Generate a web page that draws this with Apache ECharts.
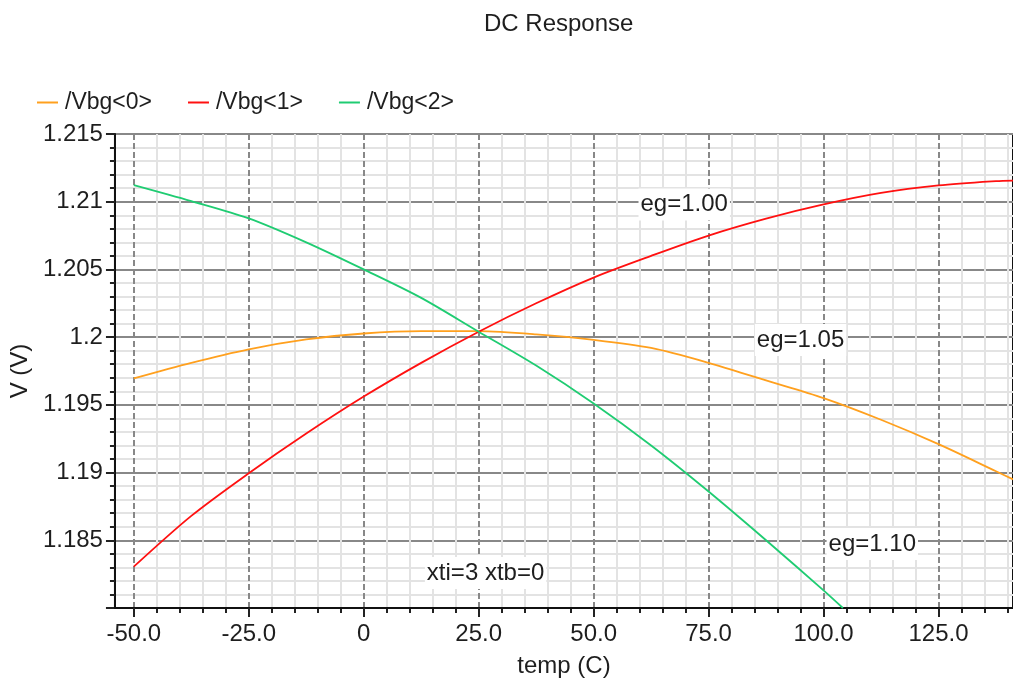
<!DOCTYPE html>
<html>
<head>
<meta charset="utf-8">
<script src="https://cdn.jsdelivr.net/npm/echarts@6/dist/echarts.min.js"></script>
<style>
html,body{margin:0;padding:0;background:#fff;}
#chart{width:1013px;height:683px;}
</style>
</head>
<body>
<div id="chart"></div>
<script>
// ---- data ----
const TITLE = 'DC Response';
const SERIES_NAMES = ['/Vbg<0>', '/Vbg<1>', '/Vbg<2>'];
const TEMP_A = [-50, -37.5, -25, -12.5, 0, 12.5, 25, 37.5, 50, 62.5, 75, 87.5, 100, 112.5, 125, 137.5, 141.2];
const VBG0 = [1.19695, 1.1981, 1.1991, 1.19983, 1.20027, 1.20045, 1.20044, 1.2002, 1.1998, 1.1992, 1.1981, 1.1968, 1.1955, 1.1939, 1.1921, 1.1901, 1.1895];
const VBG1 = [1.18305, 1.18680, 1.18995, 1.19288, 1.19561, 1.1981, 1.2004, 1.2025, 1.2044, 1.2060, 1.2075, 1.20875, 1.2098, 1.21065, 1.2112, 1.21152, 1.21156];
const TEMP_B = [-50, -37.5, -25, -12.5, 0, 12.5, 25, 37.5, 50, 62.5, 75, 87.5, 100, 104.2];
const VBG2 = [1.21123, 1.21005, 1.20877, 1.2070, 1.205, 1.2029, 1.2004, 1.1979, 1.1951, 1.1920, 1.1886, 1.1850, 1.1813, 1.18];
const X_MAJOR = [-50, -25, 0, 25, 50, 75, 100, 125];
const X_MIN = -54.1, X_MAX = 141.2;
const Y_MIN = 1.18, Y_MAX = 1.215, Y_STEP = 0.005;
const NOTES = [
  {text: 'eg=1.00', t: 69.7, v: 1.2098},
  {text: 'eg=1.05', t: 95.0, v: 1.19979},
  {text: 'eg=1.10', t: 110.6, v: 1.18472},
  {text: 'xti=3 xtb=0', t: 26.5, v: 1.18258}
];
const COLORS = ['#ffa01e', '#ff1010', '#1fcc72'];

// minor x ticks every 5, skipping the major ones
const X_MINOR = [];
for (let t = -50; t <= X_MAX; t += 5) { if (t % 25 !== 0) X_MINOR.push(t); }

const FONT = "'Liberation Sans', Arial, sans-serif";
const TXT = '#1e1e1e';

function zip(xs, ys) { return xs.map((x, i) => [x, ys[i]]); }

const chart = echarts.init(document.getElementById('chart'), null, {renderer: 'canvas'});
const mkSeries = (name, data, color, extra) => Object.assign({
  name: name, type: 'line', data: data, symbol: 'none', smooth: 0.3,
  xAxisIndex: 0, yAxisIndex: 0,
  lineStyle: {color: color, width: 1.8}, itemStyle: {color: color},
  z: 5
}, extra || {});

chart.setOption({
  animation: false,
  backgroundColor: '#fff',
  textStyle: {fontFamily: FONT},
  title: {
    text: TITLE, left: 479, top: 7,
    textStyle: {fontFamily: FONT, fontSize: 24, fontWeight: 'normal', color: TXT}
  },
  legend: {
    data: SERIES_NAMES, left: 32, top: 86, icon: 'rect', itemWidth: 21, itemHeight: 2, itemGap: 36,
    textStyle: {fontFamily: FONT, fontSize: 23, color: TXT, padding: [0, 0, 0, 2]}
  },
  grid: {
    left: 113, top: 134, right: 0, bottom: 75,
    show: true, borderColor: '#111', borderWidth: 2, backgroundColor: 'transparent'
  },
  xAxis: [{
    type: 'value', min: X_MIN, max: X_MAX, position: 'bottom',
    name: 'temp (C)', nameLocation: 'middle', nameGap: 46,
    nameTextStyle: {fontFamily: FONT, fontSize: 24, color: TXT},
    axisLine: {show: true, onZero: false, lineStyle: {color: '#111', width: 2}},
    axisTick: {show: true, customValues: X_MAJOR, length: 9, lineStyle: {color: '#222', width: 2}},
    axisLabel: {
      customValues: X_MAJOR, margin: 14, fontFamily: FONT, fontSize: 24, color: TXT,
      formatter: v => (v === 0 ? '0' : v.toFixed(1))
    },
    splitLine: {show: true, lineStyle: {color: '#888', width: 2, type: [6, 3]}},
    z: 3
  }, {
    type: 'value', min: X_MIN, max: X_MAX, position: 'bottom',
    axisLine: {show: false, onZero: false},
    axisTick: {show: true, customValues: X_MINOR, length: 5, lineStyle: {color: '#222', width: 2}},
    axisLabel: {show: false, customValues: X_MINOR},
    splitLine: {show: true, lineStyle: {color: '#e3e3e3', width: 2}},
    z: 1
  }],
  yAxis: [{
    type: 'value', min: Y_MIN, max: Y_MAX, interval: Y_STEP,
    name: 'V (V)', nameLocation: 'middle', nameGap: 68, nameRotate: 90,
    nameTextStyle: {fontFamily: FONT, fontSize: 24, color: TXT},
    axisLine: {show: true, onZero: false, lineStyle: {color: '#111', width: 2}},
    axisTick: {show: true, length: 9, lineStyle: {color: '#222', width: 2}},
    minorTick: {show: true, splitNumber: 5, length: 5, lineStyle: {color: '#222', width: 2}},
    axisLabel: {
      margin: 12, fontFamily: FONT, fontSize: 24, color: TXT,
      formatter: v => (Math.abs(v - Y_MIN) < 1e-9 ? '' : String(parseFloat(v.toFixed(3))))
    },
    splitLine: {show: true, lineStyle: {color: '#888', width: 2}},
    minorSplitLine: {show: true, lineStyle: {color: '#e3e3e3', width: 2}}
  }],
  series: [
    mkSeries(SERIES_NAMES[0], zip(TEMP_A, VBG0), COLORS[0], {
      markPoint: {
        symbol: 'rect', symbolSize: 1, itemStyle: {color: 'rgba(0,0,0,0)'},
        silent: true, z: 10,
        label: {
          show: true, position: 'inside', formatter: p => p.name,
          fontFamily: FONT, fontSize: 24, color: TXT,
          backgroundColor: '#fff', padding: [4, 2, 4, 2]
        },
        data: NOTES.map(n => ({name: n.text, coord: [n.t, n.v]}))
      }
    }),
    mkSeries(SERIES_NAMES[1], zip(TEMP_A, VBG1), COLORS[1]),
    mkSeries(SERIES_NAMES[2], zip(TEMP_B, VBG2), COLORS[2])
  ]
});
</script>
</body>
</html>
